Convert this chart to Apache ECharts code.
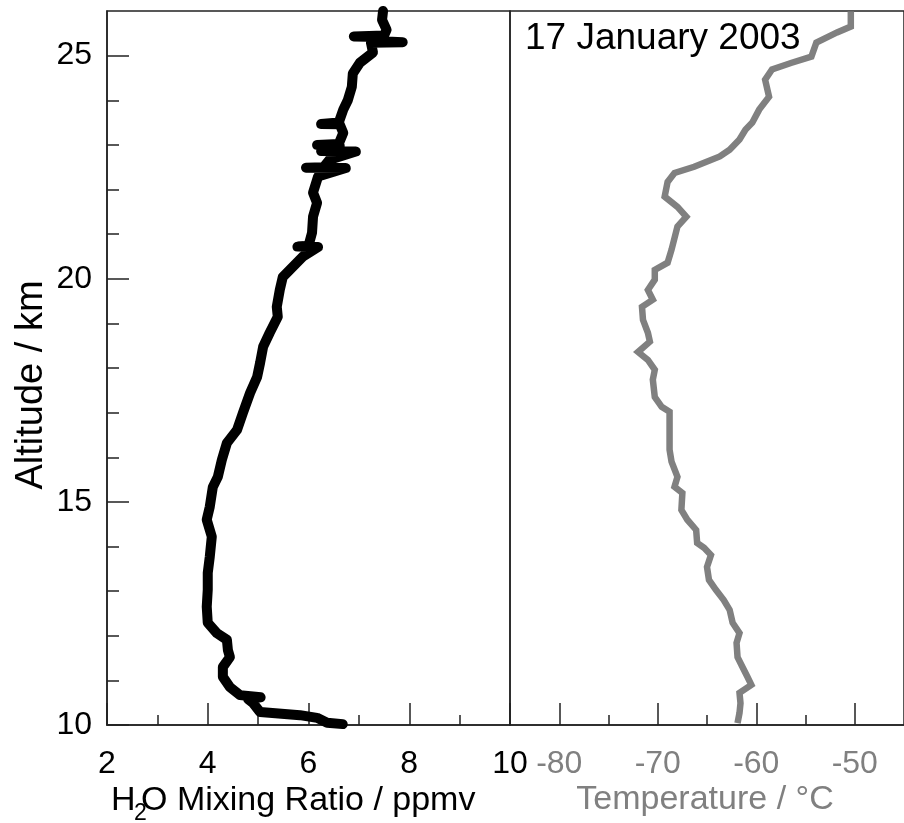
<!DOCTYPE html>
<html>
<head>
<meta charset="utf-8">
<script src="https://cdn.jsdelivr.net/npm/echarts@6/dist/echarts.min.js"></script>
<style>
html,body{margin:0;padding:0;background:#fff;}
#chart{width:904px;height:823px;}
</style>
</head>
<body>
<div id="chart"></div>
<script>
// ---- data ----
// H2O mixing ratio profile (ppmv) versus altitude (km), top to bottom
var h2oValues = [7.48,7.46,7.55,7.50,6.90,7.47,7.45,7.87,7.24,7.28,7.02,6.88,6.86,6.78,6.69,6.60,6.25,6.62,6.69,6.60,6.17,6.62,6.50,6.25,6.94,6.42,6.30,5.95,6.74,6.19,6.09,6.17,6.09,6.07,6.00,5.78,6.19,5.89,5.69,5.49,5.43,5.37,5.39,5.23,5.10,5.04,4.98,4.84,4.70,4.58,4.38,4.28,4.20,4.10,4.04,3.98,4.08,4.04,4.00,4.00,3.98,4.00,4.18,4.38,4.40,4.44,4.30,4.30,4.44,4.64,5.05,4.80,4.90,5.04,5.83,6.17,6.37,6.68];
var h2oAltitudes = [26.00,25.80,25.58,25.45,25.43,25.42,25.32,25.30,25.29,25.07,24.84,24.60,24.30,24.00,23.79,23.50,23.47,23.46,23.27,23.02,23.00,22.98,22.87,22.86,22.85,22.67,22.50,22.49,22.48,22.29,21.93,21.70,21.39,21.03,20.74,20.72,20.71,20.50,20.27,20.04,19.75,19.37,19.15,18.79,18.48,18.12,17.80,17.44,17.00,16.61,16.32,15.94,15.56,15.33,14.89,14.60,14.22,13.77,13.41,13.03,12.65,12.29,12.06,11.91,11.68,11.52,11.30,11.08,10.85,10.67,10.62,10.58,10.49,10.29,10.22,10.16,10.05,10.02];
// Temperature profile (deg C) versus altitude (km), top to bottom
var tempValues = [-50.4,-50.4,-51.8,-53.9,-54.4,-56.4,-58.4,-59.1,-58.7,-59.7,-60.4,-61.1,-61.7,-62.7,-63.7,-66.3,-68.3,-69.0,-69.3,-68.0,-67.1,-68.0,-68.6,-69.0,-70.3,-70.3,-71.0,-70.5,-71.6,-71.5,-71.0,-70.8,-72.0,-71.0,-70.3,-70.5,-70.3,-69.6,-68.8,-68.8,-68.8,-68.6,-68.0,-68.3,-67.5,-67.6,-67.0,-66.1,-66.0,-65.3,-64.6,-65.0,-64.8,-64.1,-63.3,-62.7,-62.4,-61.7,-62.0,-61.9,-61.4,-60.9,-60.5,-61.7,-61.6,-61.7,-61.9];
var tempAltitudes = [25.99,25.65,25.52,25.29,24.98,24.84,24.69,24.46,24.08,23.79,23.50,23.34,23.12,22.89,22.74,22.51,22.37,22.17,21.84,21.61,21.39,21.17,20.65,20.36,20.20,19.98,19.75,19.53,19.37,19.08,18.79,18.59,18.36,18.18,17.96,17.74,17.35,17.13,17.02,16.61,16.17,15.90,15.56,15.34,15.20,14.82,14.60,14.37,14.08,13.97,13.81,13.54,13.25,13.03,12.80,12.58,12.29,12.06,11.84,11.52,11.30,11.08,10.90,10.72,10.49,10.27,10.04];
// tick labels / tick positions
var altMajorTicks = [10,15,20,25];
var altMinorTicks = [11,12,13,14,16,17,18,19,21,22,23,24];
var h2oMajorTicks = [2,4,6,8,10];
var h2oMinorTicks = [3,5,7,9];
var tempMajorTicks = [-80,-70,-60,-50];
var tempMinorTicks = [-75,-65,-55];
// texts
var titleText = '17 January 2003';
var altitudeName = 'Altitude / km';
var tempName = 'Temperature / \u00B0C';

function zip(xs, ys){ return xs.map(function(v,i){ return [v, ys[i]]; }); }

var FONT = "'Liberation Sans', Arial, sans-serif";
var GRAY = '#808080';
var AXIS = '#222';

var chart = echarts.init(document.getElementById('chart'), null, {renderer:'canvas'});

function xAxisDef(gi, min, max, ticks, len, showLine, showLabel, color){
  return {
    type:'value', gridIndex:gi, min:min, max:max, position:'bottom',
    axisLine:{show:showLine, onZero:false, lineStyle:{color:AXIS, width:1.5}},
    axisTick:{show:true, inside:true, length:len, customValues:ticks, lineStyle:{color:AXIS, width:1.5}},
    axisLabel:{show:showLabel, customValues:ticks, margin:23, fontSize:32, fontFamily:FONT, color:color},
    splitLine:{show:false}
  };
}
function yAxisDef(gi, ticks, len, showLine, showLabel){
  return {
    type:'value', gridIndex:gi, min:10, max:26, position:'left',
    axisLine:{show:showLine, onZero:false, lineStyle:{color:AXIS, width:1.5}},
    axisTick:{show:true, inside:true, length:len, customValues:ticks, lineStyle:{color:AXIS, width:1.5}},
    axisLabel:{show:showLabel, customValues:ticks, margin:15, fontSize:32, fontFamily:FONT, color:'#000'},
    splitLine:{show:false}
  };
}

var option = {
  backgroundColor:'#fff',
  animation:false,
  grid:[
    {left:107, top:11, width:403, height:714, show:true, borderColor:AXIS, borderWidth:1.5, backgroundColor:'transparent'},
    {left:510, top:11, width:403, height:714, show:true, borderColor:AXIS, borderWidth:1.5, backgroundColor:'transparent'}
  ],
  xAxis:[
    xAxisDef(0, 2, 10, h2oMajorTicks, 22, true, true, '#000'),
    xAxisDef(0, 2, 10, h2oMinorTicks, 10, false, false, '#000'),
    xAxisDef(1, -85, -45, tempMajorTicks, 22, true, true, GRAY),
    xAxisDef(1, -85, -45, tempMinorTicks, 10, false, false, GRAY)
  ],
  yAxis:[
    yAxisDef(0, altMajorTicks, 22, true, true),
    yAxisDef(0, altMinorTicks, 12, false, false),
    {type:'value', gridIndex:1, min:10, max:26, show:false}
  ],
  series:[
    {
      type:'line', xAxisIndex:0, yAxisIndex:0, data:zip(h2oValues, h2oAltitudes),
      showSymbol:false, clip:false, smooth:false,
      lineStyle:{color:'#000', width:10, cap:'round', join:'round'}
    },
    {
      type:'line', xAxisIndex:2, yAxisIndex:2, data:zip(tempValues, tempAltitudes),
      showSymbol:false, clip:false, smooth:false,
      lineStyle:{color:GRAY, width:6.5, cap:'butt', join:'miter'}
    }
  ],
  graphic:[
    {type:'text', x:525, y:39, style:{text:titleText, font:'37px '+FONT, fill:'#000', align:'left', verticalAlign:'middle'}},
    {type:'text', x:32, y:385, rotation:Math.PI/2, style:{text:altitudeName, font:'38px '+FONT, fill:'#000', align:'center', verticalAlign:'middle'}},
    {type:'text', x:111, y:801, style:{text:'H', font:'34px '+FONT, fill:'#000', align:'left', verticalAlign:'middle'}},
    {type:'text', x:134, y:814, style:{text:'2', font:'23px '+FONT, fill:'#000', align:'left', verticalAlign:'middle'}},
    {type:'text', x:141, y:801, style:{text:'O Mixing Ratio / ppmv', font:'34px '+FONT, fill:'#000', align:'left', verticalAlign:'middle'}},
    {type:'text', x:705, y:800, style:{text:tempName, font:'34px '+FONT, fill:GRAY, align:'center', verticalAlign:'middle'}}
  ]
};
chart.setOption(option);
</script>
</body>
</html>
